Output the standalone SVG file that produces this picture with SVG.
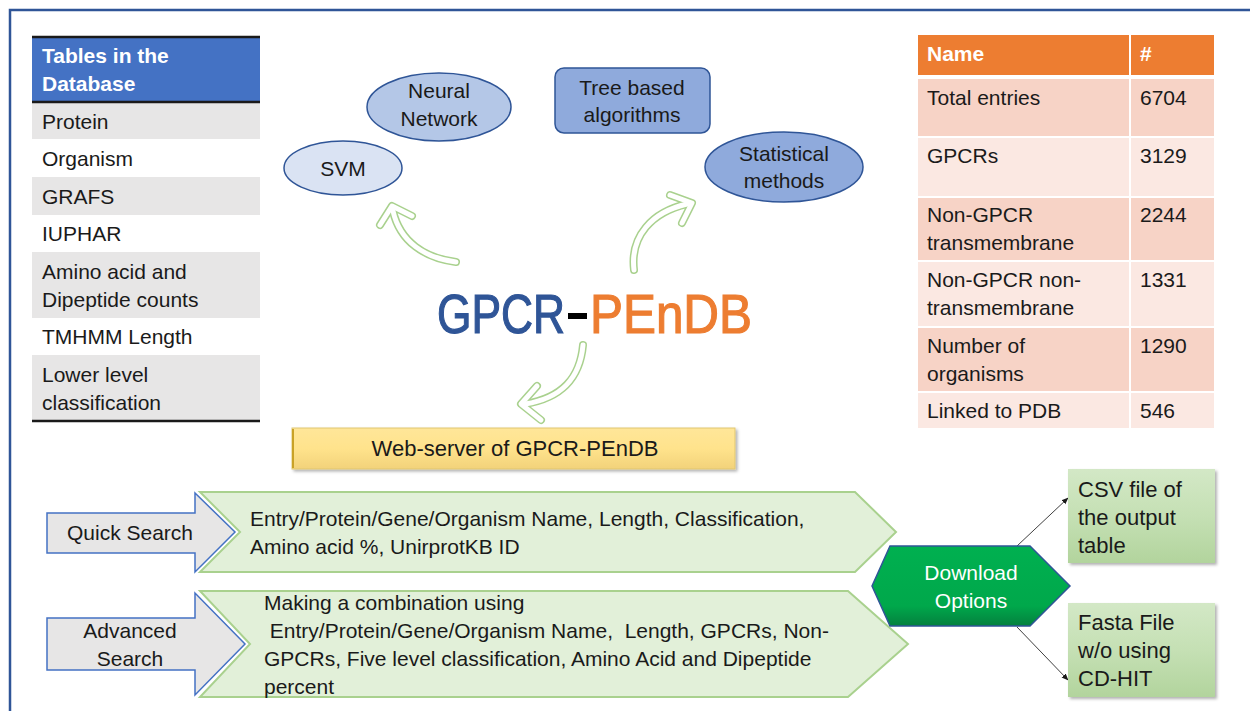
<svg xmlns="http://www.w3.org/2000/svg" width="1250" height="711" viewBox="0 0 1250 711">
<style>
text{font-family:"Liberation Sans",Arial,sans-serif;font-size:21px;fill:#1a1a1a}
.hdr{font-weight:bold;fill:#fff}
.c{text-anchor:middle}
.w{fill:#fff}
.ttl{font-size:55px;stroke-width:1.2}
.ell{stroke:#2F5597;stroke-width:1.5}
.chev{fill:#E2F0D9;stroke:#A9D18E;stroke-width:2}
.garrow{fill:#E7E6E6;stroke:#4472C4;stroke-width:1.5}
.ao{fill:none;stroke:#A9D18E;stroke-width:8;stroke-linecap:round;stroke-linejoin:round}
.ai{fill:none;stroke:#fff;stroke-width:5;stroke-linecap:round;stroke-linejoin:round}
.b1{fill:#F7D3C6;stroke:#fff;stroke-width:2}
.b2{fill:#FBE8E2;stroke:#fff;stroke-width:2}
.conn{stroke:#404040;stroke-width:1;fill:none;marker-end:url(#ah)}
</style>
<defs>
<marker id="ah" viewBox="0 0 10 10" refX="9" refY="5" markerWidth="7" markerHeight="7" orient="auto"><path d="M0,1 L10,5 L0,9 Z" fill="#1a1a1a"/></marker>
<linearGradient id="gy" x1="0" y1="0" x2="0" y2="1"><stop offset="0" stop-color="#FFE699"/><stop offset="0.5" stop-color="#FFE38C"/><stop offset="1" stop-color="#F2D27A"/></linearGradient>
<linearGradient id="gg" x1="0" y1="0" x2="0" y2="1"><stop offset="0" stop-color="#D3E8C6"/><stop offset="0.5" stop-color="#C5E0B4"/><stop offset="1" stop-color="#B2D49D"/></linearGradient>
<linearGradient id="gh" x1="0" y1="0" x2="0" y2="1"><stop offset="0" stop-color="#00B050"/><stop offset="0.75" stop-color="#00A84B"/><stop offset="1" stop-color="#04803E"/></linearGradient>
<filter id="sh" x="-10%" y="-10%" width="125%" height="130%"><feDropShadow dx="2" dy="2" stdDeviation="1.5" flood-color="#000" flood-opacity="0.3"/></filter>
</defs>
<rect width="1250" height="711" fill="#fff"/>
<path d="M10,711 V10 H1250" fill="none" stroke="#2F5597" stroke-width="2.5"/>

<g id="tables-left">
<rect x="32" y="36" width="228" height="66" fill="#4472C4"/>
<rect x="32" y="103" width="228" height="36" fill="#E7E6E6"/>
<rect x="32" y="177" width="228" height="38" fill="#E7E6E6"/>
<rect x="32" y="252" width="228" height="66" fill="#E7E6E6"/>
<rect x="32" y="355" width="228" height="66" fill="#E7E6E6"/>
<path d="M32,37 H260 M32,102 H260 M32,421 H260" stroke="#1a1a1a" stroke-width="2.5"/>
<text class="hdr" x="42" y="63">Tables in the</text>
<text class="hdr" x="42" y="91">Database</text>
<text x="42" y="129">Protein</text>
<text x="42" y="166">Organism</text>
<text x="42" y="204">GRAFS</text>
<text x="42" y="241">IUPHAR</text>
<text x="42" y="279">Amino acid and</text>
<text x="42" y="307">Dipeptide counts</text>
<text x="42" y="344">TMHMM Length</text>
<text x="42" y="382">Lower level</text>
<text x="42" y="410">classification</text>
</g>

<g id="neural">
<ellipse class="ell" cx="439" cy="107" rx="72" ry="34" fill="#B4C7E7"/>
<text class="c" x="439" y="98">Neural</text>
<text class="c" x="439" y="126">Network</text>
</g>
<g id="svm">
<ellipse class="ell" cx="343" cy="168" rx="59" ry="27" fill="#DAE3F3"/>
<text class="c" x="343" y="176">SVM</text>
</g>
<g id="tree">
<rect class="ell" x="555" y="68" width="155" height="65" rx="9" fill="#8FAADC"/>
<text class="c" x="632" y="95">Tree based</text>
<text class="c" x="632" y="122">algorithms</text>
</g>
<g id="statistical">
<ellipse class="ell" cx="784" cy="167" rx="79" ry="35" fill="#8FAADC"/>
<text class="c" x="784" y="161">Statistical</text>
<text class="c" x="784" y="188">methods</text>
</g>

<g id="title">
<text class="ttl" x="437" y="333" textLength="128" lengthAdjust="spacingAndGlyphs" style="fill:#2F5597;stroke:#2F5597">GPCR</text>
<rect x="568" y="313" width="19" height="6" fill="#000"/>
<text class="ttl" x="590" y="333" textLength="162" lengthAdjust="spacingAndGlyphs" style="fill:#ED7D31;stroke:#ED7D31">PEnDB</text>
</g>

<g id="connectors">
<path class="ao" d="M456,262 C425,258 400,242 393,211"/>
<path class="ao" d="M380,225 L392,206 L412,216"/>
<path class="ao" d="M634,270 C630,236 652,212 687,204"/>
<path class="ao" d="M670,195 L692,203 L682,223"/>
<path class="ao" d="M583,345 C580,378 562,398 525,404"/>
<path class="ao" d="M537,386 L521,404 L541,420"/>
<path class="ai" d="M456,262 C425,258 400,242 393,211"/>
<path class="ai" d="M380,225 L392,206 L412,216"/>
<path class="ai" d="M634,270 C630,236 652,212 687,204"/>
<path class="ai" d="M670,195 L692,203 L682,223"/>
<path class="ai" d="M583,345 C580,378 562,398 525,404"/>
<path class="ai" d="M537,386 L521,404 L541,420"/>
<path class="conn" d="M1017,546 L1068,498"/>
<path class="conn" d="M1017,627 L1068,680"/>
</g>

<g id="webserver">
<rect x="292" y="428" width="443" height="41" fill="url(#gy)" stroke="#E0C670" stroke-width="1" filter="url(#sh)"/>
<path d="M293,429 V468" stroke="#C9A227" stroke-width="2"/>
<text class="c" x="515" y="456" style="font-size:22px">Web-server  of GPCR-PEnDB</text>
</g>

<g id="tables-right">
<rect x="917" y="34" width="213" height="42" fill="#ED7D31" stroke="#fff" stroke-width="2"/>
<rect x="1130" y="34" width="85" height="42" fill="#ED7D31" stroke="#fff" stroke-width="2"/>
<rect class="b1" x="917" y="78" width="213" height="59"/><rect class="b1" x="1130" y="78" width="85" height="59"/>
<rect class="b2" x="917" y="137" width="213" height="60"/><rect class="b2" x="1130" y="137" width="85" height="60"/>
<rect class="b1" x="917" y="197" width="213" height="64"/><rect class="b1" x="1130" y="197" width="85" height="64"/>
<rect class="b2" x="917" y="261" width="213" height="66"/><rect class="b2" x="1130" y="261" width="85" height="66"/>
<rect class="b1" x="917" y="327" width="213" height="65"/><rect class="b1" x="1130" y="327" width="85" height="65"/>
<rect class="b2" x="917" y="392" width="213" height="37"/><rect class="b2" x="1130" y="392" width="85" height="37"/>
<text class="hdr" x="927" y="61">Name</text>
<text class="hdr" x="1140" y="61">#</text>
<text x="927" y="105">Total entries</text><text x="1140" y="105">6704</text>
<text x="927" y="163">GPCRs</text><text x="1140" y="163">3129</text>
<text x="927" y="222">Non-GPCR</text><text x="927" y="250">transmembrane</text><text x="1140" y="222">2244</text>
<text x="927" y="287">Non-GPCR non-</text><text x="927" y="315">transmembrane</text><text x="1140" y="287">1331</text>
<text x="927" y="353">Number of</text><text x="927" y="381">organisms</text><text x="1140" y="353">1290</text>
<text x="927" y="418">Linked to PDB</text><text x="1140" y="418">546</text>
</g>

<g id="quick-search">
<path class="chev" d="M200,492 L855,492 L896,532 L855,572 L200,572 L240,532 Z"/>
<path class="garrow" d="M47,513 L195,513 L195,493 L235,532 L195,572 L195,553 L47,553 Z"/>
<text class="c" x="130" y="540">Quick Search</text>
<text x="250" y="526">Entry/Protein/Gene/Organism Name, Length, Classification,</text>
<text x="250" y="554">Amino acid %, UnirprotKB ID</text>
</g>

<g id="advanced-search">
<path class="chev" d="M200,591 L848,591 L908,644 L848,697 L200,697 L250,644 Z"/>
<path class="garrow" d="M47,618 L195,618 L195,593 L245,644 L195,695 L195,670 L47,670 Z"/>
<text class="c" x="130" y="638">Advanced</text>
<text class="c" x="130" y="666">Search</text>
<text x="264" y="610">Making a combination using</text>
<text x="264" y="638" xml:space="preserve"> Entry/Protein/Gene/Organism Name,  Length, GPCRs, Non-</text>
<text x="264" y="666">GPCRs, Five level classification, Amino Acid and Dipeptide</text>
<text x="264" y="694">percent</text>
</g>

<g id="download">
<path d="M872,586 L890,546 L1030,546 L1070,586 L1030,626 L890,626 Z" fill="url(#gh)" stroke="#2F5597" stroke-width="1.5"/>
<text class="c w" x="971" y="580">Download</text>
<text class="c w" x="971" y="608">Options</text>
</g>

<g id="csv">
<rect x="1068" y="469" width="147" height="94" fill="url(#gg)" filter="url(#sh)"/>
<text x="1078" y="497" style="font-size:22px">CSV file of</text>
<text x="1078" y="525" style="font-size:22px">the output</text>
<text x="1078" y="553" style="font-size:22px">table</text>
</g>
<g id="fasta">
<rect x="1068" y="603" width="147" height="94" fill="url(#gg)" filter="url(#sh)"/>
<text x="1078" y="630" style="font-size:22px">Fasta File</text>
<text x="1078" y="658" style="font-size:22px">w/o using</text>
<text x="1078" y="686" style="font-size:22px">CD-HIT</text>
</g>
</svg>
